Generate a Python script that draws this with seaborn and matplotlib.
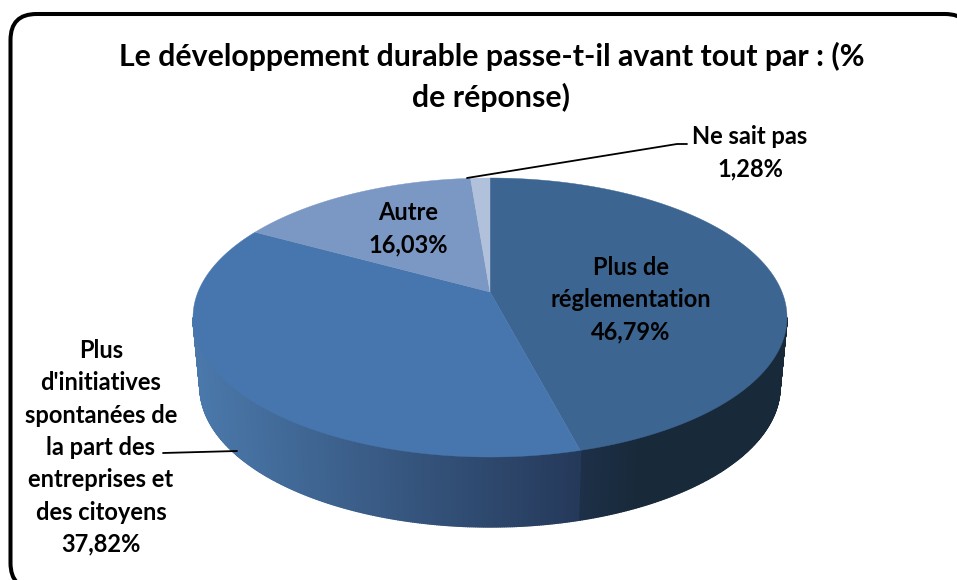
import numpy as np
import matplotlib
matplotlib.use("Agg")
import matplotlib.pyplot as plt
from matplotlib.patches import FancyBboxPatch
import seaborn as sns

title_lines = ["Le développement durable passe-t-il avant tout par : (%", "de réponse)"]
categories = ["Plus de réglementation", "Plus d'initiatives spontanées de la part des entreprises et des citoyens",
              "Autre", "Ne sait pas"]
percent = [46.79, 37.82, 16.03, 1.28]
percent_labels = ["46,79%", "37,82%", "16,03%", "1,28%"]
top_colors = ["#3c6592", "#4776ae", "#7b98c4", "#b2c1db"]

# pie geometry, in pixels
CX, CY, RX, RY = 490, 317.5, 297, 139.5
BOT_CY, BOT_RX, BOT_RY = 387, 290, 140
PERSP = 0.183


def rim(t, cy=CY, rx=RX, ry=RY):
    # t clockwise from the top, perspective moves the centre up
    u, v = np.sin(t), np.cos(t)
    d = 1 + PERSP * v
    up = u * np.sqrt(1 - PERSP**2) / d
    vp = (v + PERSP) / d
    return CX + rx * up, cy - ry * vp


def lerp_color(c0, c1, f):
    a, b = np.array(matplotlib.colors.to_rgb(c0)), np.array(matplotlib.colors.to_rgb(c1))
    return a + (b - a) * np.clip(f, 0, 1)


sns.set_theme(style="white")
plt.rcParams["font.family"] = ["Lato", "DejaVu Sans"]
palette = sns.color_palette(top_colors)

fig, ax = plt.subplots(figsize=(9.57, 5.8), dpi=100)
ax.set_position([0, 0, 1, 1])
ax.set_xlim(0, 957)
ax.set_ylim(580, 0)
ax.axis("off")

# the frame runs off the right and bottom of the picture
frame = FancyBboxPatch((36.5, 40), 908.5, 523, boxstyle="round,pad=26,rounding_size=26",
                       fc="white", ec="black", lw=2.9)
ax.add_patch(frame)

shares = np.array(percent) / np.sum(percent)
edges = np.concatenate([[0], np.cumsum(shares)]) * 2 * np.pi

# side wall, drawn as thin strips
t_start = np.arccos(-PERSP)
front = np.linspace(t_start, 2 * np.pi - t_start, 500)
for t0, t1 in zip(front[:-1], front[1:]):
    xa, ya = rim(t0)
    xb, yb = rim(t1)
    xc, yc = rim(t1, BOT_CY, BOT_RX, BOT_RY)
    xd, yd = rim(t0, BOT_CY, BOT_RX, BOT_RY)
    xm = (xa + xb) / 2
    if (t0 + t1) / 2 < edges[1]:
        col = lerp_color("#1d3048", "#18293a", (580 - xm) / -60)
    else:
        col = lerp_color("#4a78aa", "#25395a", (xm - 197) / (580 - 197))
    ax.fill([xa, xb, xc, xd], [ya, yb, yc, yd], color=col, lw=1.0, zorder=2)

# top face
apex = (CX, CY - RY * PERSP)
for i in range(len(percent)):
    ts = np.linspace(edges[i], edges[i + 1], 200)
    xs, ys = rim(ts)
    ax.fill(np.r_[apex[0], xs], np.r_[apex[1], ys], color=palette[i], lw=0.3, zorder=3)

# leader lines
ax.plot([163, 237], [453, 451], color="black", lw=1.3, zorder=4)
ax.plot([467, 677, 687], [178, 144, 144], color="black", lw=1.3, zorder=4)


def lines(strs, x, y0, pitch, size):
    for k, s in enumerate(strs):
        ax.text(x, y0 + k * pitch, s, ha="center", va="baseline", fontsize=size,
                fontweight="bold", color="black", zorder=5)


lines(title_lines, 491.5, 66, 40.5, 21.8)
lines(["Ne sait pas", percent_labels[3]], 750, 144, 32, 17)
lines(["Autre", percent_labels[2]], 408, 220, 32, 17)
lines(["Plus de", "réglementation", percent_labels[0]], 631, 275, 32, 17)
lines(["Plus", "d'initiatives", "spontanées de", "la part des", "entreprises et", "des citoyens", percent_labels[1]],
      101, 358, 32.3, 17)

fig.savefig("out.png", dpi=100)
